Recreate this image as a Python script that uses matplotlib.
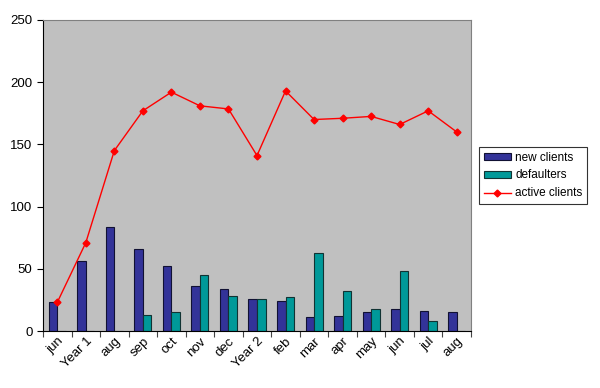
import numpy as np
import matplotlib
matplotlib.use('Agg')
import matplotlib.pyplot as plt

months = ['jun', 'Year 1', 'aug', 'sep', 'oct', 'nov', 'dec', 'Year 2',
          'feb', 'mar', 'apr', 'may', 'jun', 'jul', 'aug']
new_clients = [23, 56, 84, 66, 52, 36, 33.5, 26, 24, 11, 12, 15, 18, 16, 15]
defaulters = [0, 0, 0, 13, 15, 45, 28, 26, 27, 63, 32, 18, 48, 8, 0]
active_clients = [23, 71, 145, 177, 192, 181, 178.5, 141, 193, 170, 171, 172.5, 166, 177, 160]

plt.rcParams['font.family'] = ['Liberation Sans', 'DejaVu Sans']

fig = plt.figure(figsize=(6, 3.88), dpi=100)
ax = fig.add_axes([43/600, 57/388, 428/600, 311/388])
ax.set_facecolor('#C0C0C0')

x = np.arange(len(months))
w = 0.3
b1 = ax.bar(x - w/2, new_clients, w, color='#333399', edgecolor='#111133', lw=0.8,
            label='new clients', zorder=2)
b2 = ax.bar(x + w/2, defaulters, w, color='#009999', edgecolor='#113333', lw=0.8,
            label='defaulters', zorder=2)
l1, = ax.plot(x, active_clients, color='#FF0000', lw=1, marker='D', ms=3.5,
              label='active clients', zorder=3)

ax.set_xlim(-0.5, len(months) - 0.5)
ax.set_ylim(0, 250)
ax.set_yticks([0, 50, 100, 150, 200, 250])
ax.set_xticks(np.arange(-0.5, len(months)), labels=[])
ax.set_xticks(x, labels=months, minor=True)
ax.tick_params(axis='x', which='major', length=4, direction='out', color='#444444')
ax.tick_params(axis='x', which='minor', length=0, labelsize=9.5, rotation=45, pad=3)
ax.tick_params(axis='y', length=4, direction='out', labelsize=9.5)
for lab in ax.get_xticklabels(minor=True):
    lab.set_ha('right')
    lab.set_rotation_mode('anchor')

ax.spines['top'].set_color('#808080')
ax.spines['right'].set_color('#808080')
ax.spines['left'].set_color('black')
ax.spines['bottom'].set_color('black')

leg = ax.legend([b1, b2, l1], ['new clients', 'defaulters', 'active clients'],
                loc='center left', bbox_to_anchor=(1.01, 0.5), fontsize=8.5,
                frameon=True, fancybox=False, edgecolor='black',
                borderpad=0.4, labelspacing=0.5, handlelength=2.3,
                handleheight=0.5, handletextpad=0.4, borderaxespad=0.3)
leg.get_frame().set_linewidth(0.8)

fig.savefig('out.png', dpi=100)
